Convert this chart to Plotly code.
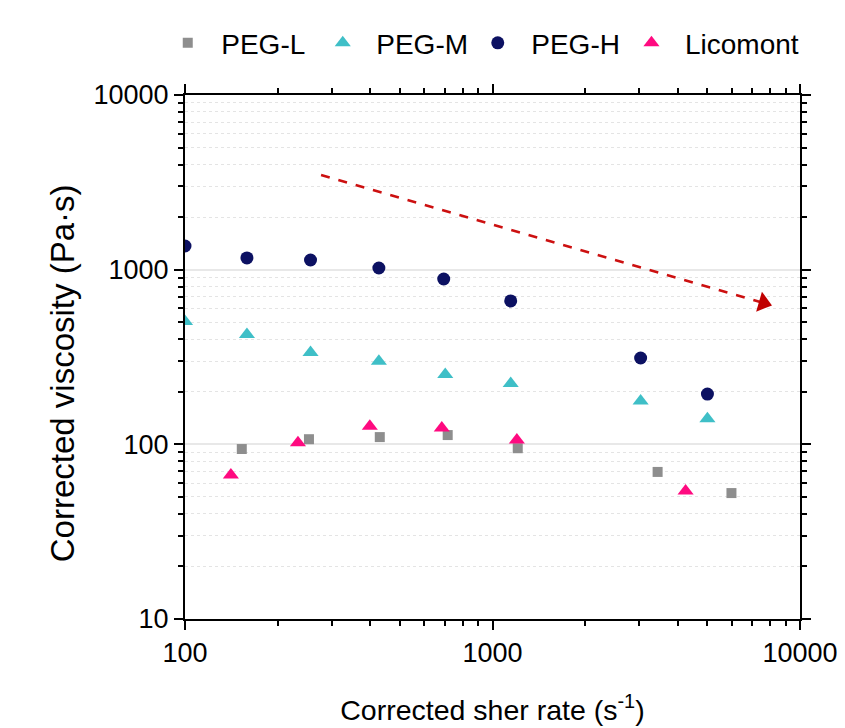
import plotly.graph_objects as go

FONT = "Liberation Sans, Arial, sans-serif"

# ---- data ----
peg_l_x = [153, 253, 430, 715, 1208, 3443, 5985]
peg_l_y = [94, 107, 110, 113, 95, 69.5, 52.6]

peg_m_x = [100, 159, 256, 427, 702, 1146, 3032, 5000]
peg_m_y = [505, 425, 336, 299, 251, 223, 177, 140]

peg_h_x = [100, 159, 256, 427, 694, 1146, 3032, 5000]
peg_h_y = [1366, 1167, 1136, 1022, 884, 662, 312, 194]

lico_x = [141, 233, 399, 684, 1200, 4246]
lico_y = [66.7, 102, 127, 124, 106, 54]

arrow_x = [277, 7600]
arrow_y = [3483, 645]

x_ticks = [100, 1000, 10000]
y_ticks = [10, 100, 1000, 10000]
x_minor = [m * d for d in (100, 1000) for m in range(2, 10)]
y_minor = [m * d for d in (10, 100, 1000) for m in range(2, 10)]

fig = go.Figure()

fig.add_trace(go.Scatter(x=peg_l_x, y=peg_l_y, mode="markers", name="PEG-L",
                         marker=dict(symbol="square", size=10, color="#8e8e8e")))
fig.add_trace(go.Scatter(x=peg_m_x, y=peg_m_y, mode="markers", name="PEG-M",
                         marker=dict(symbol="triangle-up", size=14, color="#3fbfc7")))
fig.add_trace(go.Scatter(x=peg_h_x, y=peg_h_y, mode="markers", name="PEG-H",
                         marker=dict(symbol="circle", size=13, color="#0c1162")))
fig.add_trace(go.Scatter(x=lico_x, y=lico_y, mode="markers", name="Licomont", legend="legend2",
                         marker=dict(symbol="triangle-up", size=14, color="#ff0a80")))

fig.add_trace(go.Scatter(x=arrow_x, y=arrow_y, mode="lines+markers", showlegend=False,
                         line=dict(color="#cc1010", width=2.5, dash="dash"),
                         marker=dict(symbol="triangle-up", size=[0, 18], angleref="previous",
                                     color="#c00000", opacity=1,
                                     line=dict(width=0)),
                         hoverinfo="skip"))

fig.update_layout(
    width=845, height=728,
    margin=dict(l=177, r=53, t=87, b=117, autoexpand=False),
    paper_bgcolor="white", plot_bgcolor="white",
    font=dict(family=FONT, size=27, color="black"),
    showlegend=True,
    legend=dict(orientation="h", x=-0.05, y=1.099, xanchor="left", yanchor="middle",
                font=dict(size=28), bgcolor="rgba(0,0,0,0)", itemwidth=57,
                entrywidth=83, entrywidthmode="pixels"),
    legend2=dict(orientation="h", x=0.704, y=1.099, xanchor="left", yanchor="middle",
                 font=dict(size=28), bgcolor="rgba(0,0,0,0)", itemwidth=57),
    annotations=[dict(text="Corrected viscosity (Pa·s)", textangle=-90,
                      xref="paper", yref="paper", x=-0.2, y=0.469,
                      xanchor="center", yanchor="middle", showarrow=False,
                      font=dict(size=33))],
)

fig.update_xaxes(
    type="log", range=[2, 4], tickvals=x_ticks, ticktext=[str(v) for v in x_ticks],
    ticks="outside", ticklen=9, tickwidth=1.5, tickcolor="black",
    showline=True, linecolor="black", linewidth=2, mirror="allticks",
    showgrid=False, zeroline=False, tickfont=dict(size=27), automargin=False,
    minor=dict(tickvals=x_minor, ticks="outside", ticklen=5, tickcolor="black", showgrid=False),
    title=dict(text="Corrected sher rate (s<sup>-1</sup>)", font=dict(size=28.5), standoff=33),
)
fig.update_yaxes(
    type="log", range=[1, 4], tickvals=y_ticks, ticktext=[str(v) for v in y_ticks],
    ticks="outside", ticklen=9, tickwidth=1.5, tickcolor="black",
    showline=True, linecolor="black", linewidth=2, mirror="allticks",
    showgrid=True, gridcolor="#e8e8e8", gridwidth=1.5, zeroline=False, tickfont=dict(size=27),
    automargin=False,
    minor=dict(tickvals=y_minor, ticks="outside", ticklen=5, tickcolor="black",
               showgrid=True, gridcolor="#e4e4e4", griddash="dot", gridwidth=1),
)

fig.write_html("out.html")
